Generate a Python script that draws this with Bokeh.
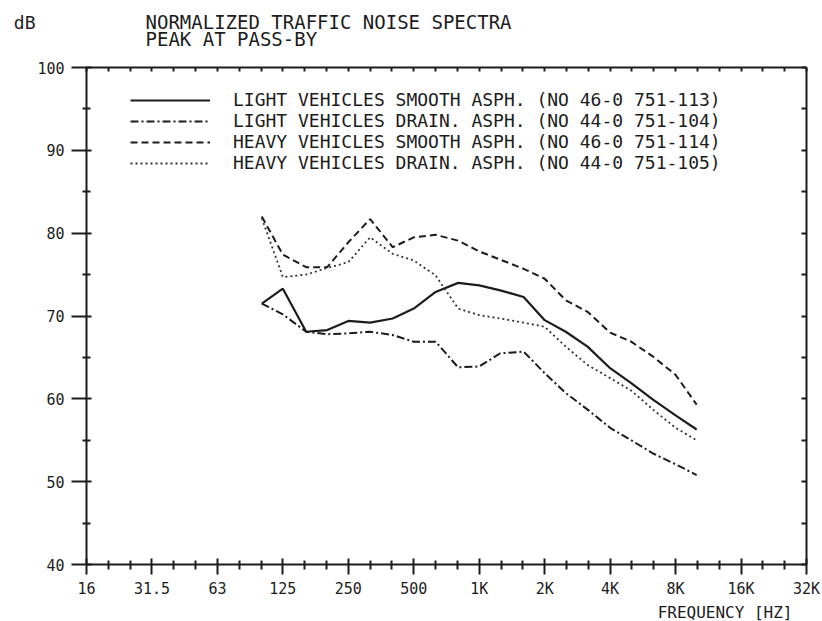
from bokeh.plotting import figure
from bokeh.layouts import column
from bokeh.models import Range1d, FixedTicker, LogAxis, LinearAxis, Legend, LegendItem, Title
from bokeh.core.properties import value
from bokeh.embed import file_html
from bokeh.resources import INLINE

# third-octave band centre frequencies (Hz)
freq = [100, 125, 160, 200, 250, 315, 400, 500, 630, 800, 1000, 1250, 1600,
        2000, 2500, 3150, 4000, 5000, 6300, 8000, 10000]

light_smooth = [71.5, 73.3, 68.1, 68.3, 69.4, 69.2, 69.7, 70.9, 72.9, 74.0, 73.7,
                73.1, 72.3, 69.5, 68.1, 66.3, 63.7, 61.9, 59.9, 58.0, 56.3]
light_drain = [71.5, 70.2, 68.1, 67.8, 67.9, 68.1, 67.7, 66.9, 66.9, 63.8, 63.9,
               65.5, 65.7, 63.1, 60.7, 58.7, 56.5, 55.0, 53.4, 52.1, 50.8]
heavy_smooth = [82.0, 77.4, 75.9, 75.9, 78.9, 81.7, 78.3, 79.5, 79.8, 79.1, 77.8,
                76.8, 75.7, 74.5, 71.9, 70.5, 68.0, 66.9, 65.1, 62.9, 59.3]
heavy_drain = [81.8, 74.7, 75.0, 75.8, 76.5, 79.5, 77.5, 76.7, 74.9, 70.9, 70.1,
               69.7, 69.2, 68.7, 66.3, 64.1, 62.5, 61.0, 58.7, 56.5, 55.0]

series_labels = [
    "LIGHT VEHICLES SMOOTH ASPH. (NO 46-0 751-113)",
    "LIGHT VEHICLES DRAIN. ASPH. (NO 44-0 751-104)",
    "HEAVY VEHICLES SMOOTH ASPH. (NO 46-0 751-114)",
    "HEAVY VEHICLES DRAIN. ASPH. (NO 44-0 751-105)",
]

octave_ticks = [15.625, 31.25, 62.5, 125, 250, 500, 1000, 2000, 4000, 8000, 16000, 32000]
octave_labels = ["16", "31.5", "63", "125", "250", "500", "1K", "2K", "4K", "8K", "16K", "32K"]
third_ticks = [15.625 * 2 ** (k / 3) for k in range(1, 33) if k % 3]
db_ticks = [40, 50, 60, 70, 80, 90, 100]
db_minor = [45, 55, 65, 75, 85, 95]
db_all = list(range(40, 101, 5))

title_lines = ["NORMALIZED TRAFFIC NOISE SPECTRA", "PEAK AT PASS-BY"]
y_unit = "dB"
x_title = "FREQUENCY [HZ]"

INK = "#1c1c1c"
FONT = "DejaVu Sans Mono"
W, H = 822, 621
LB, RB = 86, 16          # left / right borders (frame spans 86..806)
HDR = 58                 # header strip height

# ---- header strip: unit label and two-line title ----
hdr = figure(width=W, height=HDR, x_range=Range1d(LB, W - RB), y_range=Range1d(HDR, 0),
             x_axis_location=None, output_backend="svg", toolbar_location=None,
             min_border_left=LB, min_border_right=RB, min_border_top=0, min_border_bottom=0)
hdr.outline_line_color = None
hdr.grid.grid_line_color = None
ha = hdr.left[0]
ha.ticker = FixedTicker(ticks=[22], minor_ticks=[])
ha.major_label_overrides = {22: y_unit}
ha.axis_line_color = None
ha.major_tick_line_color = None
ha.minor_tick_line_color = None
ha.major_tick_in = 0
ha.major_tick_out = 0
ha.major_label_standoff = 51
ha.major_label_text_font = FONT
ha.major_label_text_font_size = "18px"
ha.major_label_text_color = INK
hdr.text(x=[145, 145], y=[21.5, 38.5], text=title_lines, text_font=value(FONT),
         text_font_size="19px", text_color=INK, text_baseline="middle")

# ---- main chart ----
p = figure(width=W, height=H - HDR, x_axis_type="log",
           x_range=Range1d(15.625, 32000), y_range=Range1d(40, 100),
           output_backend="svg", toolbar_location=None,
           min_border_left=LB, min_border_right=RB, min_border_top=9, min_border_bottom=54)
p.outline_line_color = None
p.xgrid.grid_line_color = None
p.ygrid.grid_line_color = None

xa = p.below[0]
xa.ticker = FixedTicker(ticks=octave_ticks, minor_ticks=third_ticks)
xa.major_label_overrides = dict(zip(octave_ticks, octave_labels))
xa.major_tick_in = 6
xa.major_tick_out = 10
xa.minor_tick_in = 4
xa.minor_tick_out = 5
xa.major_label_standoff = 5

ya = p.left[0]
ya.ticker = FixedTicker(ticks=db_ticks, minor_ticks=db_minor)
ya.major_tick_in = 5
ya.major_tick_out = 15
ya.minor_tick_in = 4
ya.minor_tick_out = 4
ya.major_label_standoff = 7
ya.major_label_text_baseline = "bottom"

for ax in (xa, ya):
    ax.axis_line_color = INK
    ax.axis_line_width = 2
    ax.major_tick_line_color = INK
    ax.major_tick_line_width = 2
    ax.minor_tick_line_color = INK
    ax.minor_tick_line_width = 2
    ax.major_label_text_font = FONT
    ax.major_label_text_font_size = "15px"
    ax.major_label_text_color = INK

top = LogAxis(ticker=FixedTicker(ticks=[], minor_ticks=sorted(octave_ticks + third_ticks)),
              major_tick_in=0, major_tick_out=0, minor_tick_in=4, minor_tick_out=0,
              major_label_standoff=0,
              axis_line_color=INK, axis_line_width=2,
              minor_tick_line_color=INK, minor_tick_line_width=2)
p.add_layout(top, "above")

right = LinearAxis(ticker=FixedTicker(ticks=[], minor_ticks=db_all),
                   major_tick_in=0, major_tick_out=0, minor_tick_in=5, minor_tick_out=0,
                   major_label_standoff=0,
                   axis_line_color=INK, axis_line_width=2,
                   minor_tick_line_color=INK, minor_tick_line_width=2)
p.add_layout(right, "right")

r1 = p.line(freq, light_smooth, line_color=INK, line_width=2.2)
r2 = p.line(freq, light_drain, line_color=INK, line_width=2, line_dash="8 3 2 3")
r3 = p.line(freq, heavy_smooth, line_color=INK, line_width=2, line_dash="7 4")
r4 = p.line(freq, heavy_drain, line_color="#333333", line_width=1.8, line_dash="2 3")

legend = Legend(items=[LegendItem(label=series_labels[i], renderers=[r])
                       for i, r in enumerate([r1, r2, r3, r4])],
                location=(44, 391), padding=0, spacing=0, margin=0,
                glyph_width=80, glyph_height=18, label_height=18, label_standoff=23,
                label_text_font=FONT, label_text_font_size="18px", label_text_color=INK,
                border_line_color=None, background_fill_alpha=0)
p.add_layout(legend)

p.add_layout(Title(text=x_title, align="right", offset=14, standoff=0,
                   text_font=FONT, text_font_size="16px", text_font_style="normal",
                   text_color=INK), "below")

open("out.html", "w").write(file_html(column(hdr, p), INLINE))
